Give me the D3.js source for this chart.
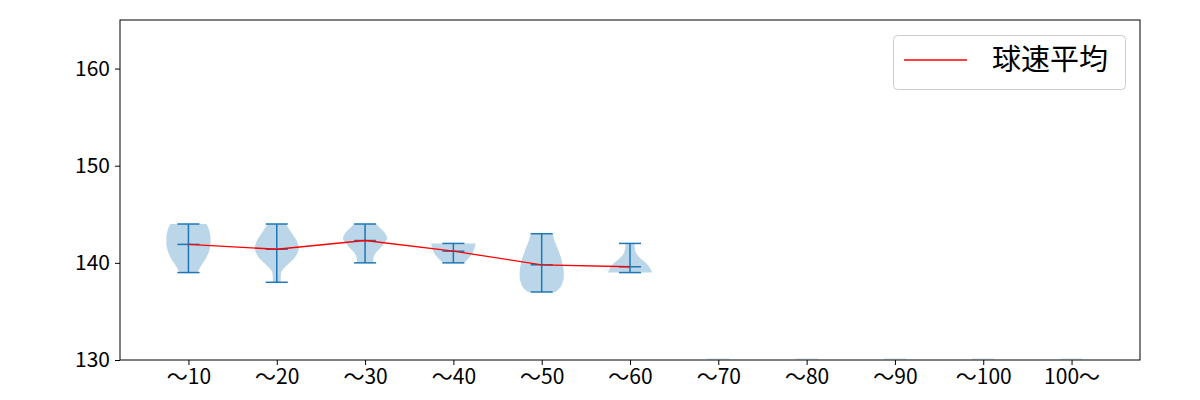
<!DOCTYPE html>
<html><head><meta charset="utf-8">
<script src="https://cdn.jsdelivr.net/npm/d3@7"></script>
<style>body{margin:0;background:#fff;} text{font-family:"Noto Sans CJK JP","Noto Sans",sans-serif;}</style>
</head><body><svg id="c" width="1200" height="400"></svg>
<script>
const categories = ["〜10","〜20","〜30","〜40","〜50","〜60","〜70","〜80","〜90","〜100","100〜"];
const mins  = [139, 138, 140, 140, 137, 139, null, null, null, null, null];
const maxs  = [144, 144, 144, 142, 143, 142, null, null, null, null, null];
const means = [141.9, 141.4, 142.3, 141.2, 139.8, 139.6, null, null, null, null, null];
// relative violin widths, evenly spaced from min (first) to max (last)
const profiles = [
  [0.41,0.52,0.66,0.8,0.9,0.97,1.0,1.0,0.98,0.92,0.82],
  [0.18,0.18,0.2,0.35,0.58,0.8,0.93,1.0,0.95,0.85,0.7,0.55,0.42],
  [0.36,0.38,0.47,0.68,0.86,1.0,0.92,0.72,0.5],
  [0.48,0.7,0.86,0.96,1.0],
  [0.62,0.85,0.95,1.0,1.0,0.98,0.93,0.88,0.8,0.72,0.63,0.55,0.5],
  [1.0,0.9,0.72,0.45,0.28,0.22,0.2],
  null,null,null,null,null
];
const yTicks = [130, 140, 150, 160];
const legendLabel = "球速平均";

const svg = d3.select("#c");
const L = 120, R = 1140, T = 20, B = 360;
const x = d3.scaleLinear().domain([0.225, 11.775]).range([L, R]);
const y = d3.scaleLinear().domain([130, 165]).range([B, T]);
const pos = i => i + 1;
const vw = 0.5;
const blue = "#1f77b4";

const g = svg.append("g");
g.append("defs").append("clipPath").attr("id","clip").append("rect")
  .attr("x", L).attr("y", T).attr("width", R-L).attr("height", B-T);
const plot = g.append("g").attr("clip-path","url(#clip)");

categories.forEach((c, i) => {
  const p = pos(i);
  if (profiles[i] == null) {
    plot.append("rect").attr("x", x(p - vw*0.25)).attr("y", y(130) - 2)
      .attr("width", x(p + vw*0.25) - x(p - vw*0.25)).attr("height", 2)
      .attr("fill", blue).attr("opacity", 0.12);
    return;
  }
  const prof = profiles[i];
  const n = prof.length;
  const pts = prof.map((w, k) => ({v: mins[i] + (maxs[i]-mins[i]) * k/(n-1), w}));
  const area = d3.area().curve(d3.curveMonotoneY)
    .y(d => y(d.v))
    .x0(d => x(p - d.w*vw/2))
    .x1(d => x(p + d.w*vw/2));
  plot.append("path").attr("d", area(pts)).attr("fill", blue).attr("fill-opacity", 0.3).attr("stroke","none");
  const cap = [p - vw*0.25, p + vw*0.25];
  [mins[i], maxs[i], means[i]].forEach(v => {
    plot.append("line").attr("x1", x(cap[0])).attr("x2", x(cap[1]))
      .attr("y1", y(v)).attr("y2", y(v)).attr("stroke", blue).attr("stroke-width", 1.5);
  });
  plot.append("line").attr("x1", x(p)).attr("x2", x(p))
    .attr("y1", y(mins[i])).attr("y2", y(maxs[i])).attr("stroke", blue).attr("stroke-width", 1.5);
});

const meanPts = means.map((m, i) => ({p: pos(i), m})).filter(d => d.m != null);
plot.append("path").datum(meanPts)
  .attr("d", d3.line().x(d => x(d.p)).y(d => y(d.m)))
  .attr("fill","none").attr("stroke","red").attr("stroke-width", 1.3);

// axes
const xAxis = d3.axisBottom(x).tickValues(categories.map((c,i)=>pos(i)))
  .tickFormat((d,i)=>categories[i]).tickSize(5).tickPadding(4);
const yAxis = d3.axisLeft(y).tickValues(yTicks).tickSize(5).tickPadding(5);
const gx = svg.append("g").attr("transform", `translate(0,${B})`).call(xAxis);
const gy = svg.append("g").attr("transform", `translate(${L},0)`).call(yAxis);
[gx, gy].forEach(a => {
  a.select(".domain").remove();
  a.selectAll(".tick line").attr("stroke","#000").attr("stroke-width",1);
  a.selectAll("text").attr("fill","#000").style("font-size","21px");
});
svg.append("rect").attr("x", L).attr("y", T).attr("width", R-L).attr("height", B-T)
  .attr("fill","none").attr("stroke","#000").attr("stroke-width",1);

// legend
const lg = svg.append("g");
lg.append("rect").attr("x", 893.5).attr("y", 35.5).attr("width", 232).attr("height", 54)
  .attr("rx", 4).attr("fill","#fff").attr("fill-opacity",0.8).attr("stroke","#ccc");
lg.append("line").attr("x1", 904).attr("x2", 967).attr("y1", 60).attr("y2", 60)
  .attr("stroke","red").attr("stroke-width",1.3);
lg.append("text").attr("x", 992).attr("y", 60).attr("dy","0.35em")
  .style("font-size","29px").attr("fill","#000").text(legendLabel);
</script></body></html>
